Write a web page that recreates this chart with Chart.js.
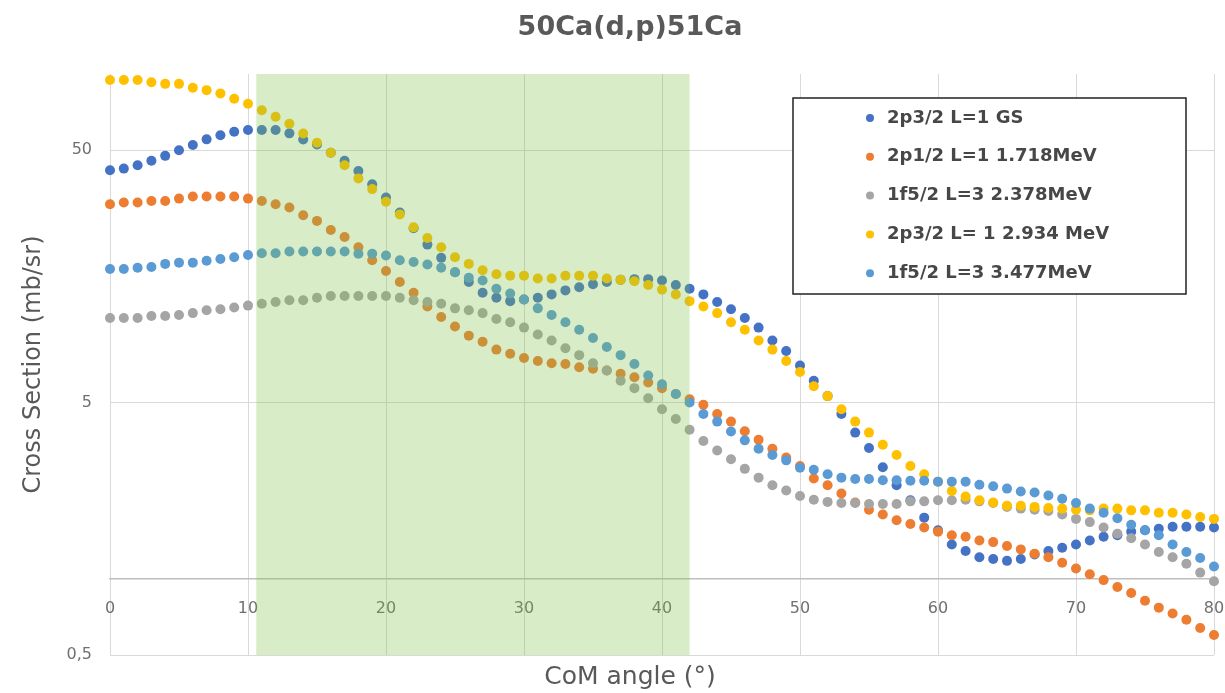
<!DOCTYPE html>
<html>
<head>
<meta charset="utf-8">
<title>50Ca(d,p)51Ca</title>
<script src="https://cdn.jsdelivr.net/npm/chart.js@4.4.1/dist/chart.umd.min.js"></script>
<style>
  html, body { margin: 0; padding: 0; background: #fff; }
  #wrap { width: 1225px; height: 693px; }
</style>
</head>
<body>
<div id="wrap"><canvas id="xsChart" width="1225" height="693"></canvas></div>
<script>
// CoM angles (deg), one point per degree
const angles = [
  0, 1, 2, 3, 4, 5, 6, 7, 8, 9,
  10, 11, 12, 13, 14, 15, 16, 17, 18, 19,
  20, 21, 22, 23, 24, 25, 26, 27, 28, 29,
  30, 31, 32, 33, 34, 35, 36, 37, 38, 39,
  40, 41, 42, 43, 44, 45, 46, 47, 48, 49,
  50, 51, 52, 53, 54, 55, 56, 57, 58, 59,
  60, 61, 62, 63, 64, 65, 66, 67, 68, 69,
  70, 71, 72, 73, 74, 75, 76, 77, 78, 79, 80
];

const seriesLabels = [
  '2p3/2 L=1 GS',
  '2p1/2 L=1 1.718MeV',
  '1f5/2 L=3 2.378MeV',
  '2p3/2 L= 1 2.934 MeV',
  '1f5/2 L=3 3.477MeV'
];
const seriesColors = ['#4472C4', '#ED7D31', '#A5A5A5', '#FFC000', '#5B9BD5'];

// cross sections (mb/sr)
const gs2p32 = [
  41.6, 42.2, 43.5, 45.3, 47.4, 49.9, 52.3, 55.1, 57.2, 59.1,
  60.0, 60.0, 60.0, 58.2, 55.0, 52.6, 48.8, 45.3, 41.3, 36.6,
  32.4, 28.3, 24.5, 21.1, 18.7, 16.4, 15.0, 13.6, 13.0, 12.6,
  12.8, 13.0, 13.4, 13.9, 14.3, 14.7, 15.0, 15.3, 15.4, 15.4,
  15.2, 14.6, 14.1, 13.4, 12.5, 11.7, 10.8, 9.9, 8.8, 8.0,
  7.0, 6.1, 5.3, 4.5, 3.8, 3.3, 2.77, 2.35, 2.05, 1.75,
  1.56, 1.37, 1.29, 1.22, 1.20, 1.18, 1.20, 1.25, 1.29, 1.33,
  1.37, 1.42, 1.47, 1.49, 1.54, 1.56, 1.58, 1.61, 1.61, 1.61, 1.60
];
const ex2p12 = [
  30.5, 31.0, 31.0, 31.4, 31.4, 32.1, 32.7, 32.7, 32.7, 32.7,
  32.1, 31.4, 30.5, 29.6, 27.6, 26.2, 24.1, 22.6, 20.6, 18.3,
  16.6, 15.0, 13.6, 12.0, 10.9, 10.0, 9.2, 8.7, 8.1, 7.8,
  7.5, 7.3, 7.15, 7.1, 6.9, 6.8, 6.7, 6.5, 6.3, 6.0,
  5.7, 5.4, 5.15, 4.9, 4.5, 4.2, 3.85, 3.56, 3.28, 3.03,
  2.8, 2.5, 2.35, 2.18, 2.01, 1.88, 1.8, 1.71, 1.65, 1.6,
  1.54, 1.49, 1.47, 1.42, 1.4, 1.35, 1.31, 1.26, 1.22, 1.16,
  1.1, 1.045, 0.99, 0.93, 0.88, 0.82, 0.77, 0.73, 0.69, 0.64, 0.6
];
const ex1f52a = [
  10.8, 10.8, 10.8, 11.0, 11.0, 11.1, 11.3, 11.6, 11.7, 11.9,
  12.1, 12.3, 12.5, 12.7, 12.7, 13.0, 13.2, 13.2, 13.2, 13.2,
  13.2, 13.0, 12.7, 12.5, 12.3, 11.8, 11.6, 11.3, 10.7, 10.4,
  9.9, 9.3, 8.8, 8.2, 7.7, 7.15, 6.7, 6.1, 5.7, 5.2,
  4.7, 4.3, 3.9, 3.52, 3.23, 2.98, 2.73, 2.52, 2.35, 2.24,
  2.13, 2.06, 2.02, 2.0, 2.0, 1.98, 1.98, 1.98, 2.03, 2.03,
  2.05, 2.05, 2.06, 2.03, 2.0, 1.93, 1.9, 1.88, 1.86, 1.8,
  1.73, 1.68, 1.6, 1.51, 1.45, 1.37, 1.28, 1.22, 1.15, 1.06, 0.98
];
const ex2p32 = [
  94.6, 94.6, 94.6, 92.8, 91.4, 91.4, 88.2, 86.3, 83.8, 79.8,
  76.2, 71.9, 67.7, 63.5, 58.1, 53.4, 48.8, 43.5, 38.6, 35.0,
  31.2, 27.8, 24.7, 22.4, 20.6, 18.8, 17.7, 16.7, 16.1, 15.9,
  15.9, 15.5, 15.5, 15.9, 15.9, 15.9, 15.5, 15.3, 15.1, 14.6,
  14.0, 13.4, 12.6, 12.0, 11.3, 10.4, 9.7, 8.8, 8.1, 7.3,
  6.6, 5.8, 5.3, 4.7, 4.2, 3.8, 3.4, 3.1, 2.8, 2.6,
  2.43, 2.23, 2.12, 2.05, 2.01, 1.95, 1.95, 1.93, 1.91, 1.9,
  1.88, 1.87, 1.9, 1.9, 1.87, 1.87, 1.83, 1.83, 1.8, 1.76, 1.73
];
const ex1f52b = [
  16.9, 16.9, 17.1, 17.2, 17.7, 17.9, 17.9, 18.2, 18.5, 18.8,
  19.2, 19.5, 19.5, 19.8, 19.8, 19.8, 19.8, 19.8, 19.4, 19.4,
  19.1, 18.3, 18.0, 17.6, 17.1, 16.4, 15.6, 15.2, 14.1, 13.5,
  12.8, 11.8, 11.1, 10.4, 9.7, 9.0, 8.3, 7.7, 7.1, 6.4,
  5.9, 5.4, 5.0, 4.5, 4.2, 3.84, 3.54, 3.28, 3.1, 2.95,
  2.76, 2.71, 2.6, 2.52, 2.49, 2.49, 2.46, 2.46, 2.45, 2.45,
  2.43, 2.43, 2.43, 2.36, 2.33, 2.28, 2.22, 2.2, 2.14, 2.08,
  2.0, 1.9, 1.83, 1.74, 1.64, 1.56, 1.49, 1.37, 1.28, 1.21, 1.12
];

const yTicks = [0.5, 5, 50];
const shadeRange = [10.6, 42];   // green band, in degrees

const allSeries = [gs2p32, ex2p12, ex1f52a, ex2p32, ex1f52b];
const font = 'DejaVu Sans';

const datasets = allSeries.map((vals, i) => ({
  label: seriesLabels[i],
  data: vals.map((v, j) => ({ x: angles[j], y: v })),
  backgroundColor: seriesColors[i],
  borderWidth: 0,
  pointRadius: 5,
  pointHoverRadius: 5,
  showLine: false,
  clip: false,
  order: allSeries.length - 1 - i   // later series drawn on top, like excel
}));

// translucent green band over the points
const shadePlugin = {
  id: 'shade',
  afterDatasetsDraw(chart) {
    const { ctx, chartArea, scales } = chart;
    const x0 = scales.x.getPixelForValue(shadeRange[0]);
    const x1 = scales.x.getPixelForValue(shadeRange[1]);
    ctx.save();
    ctx.fillStyle = 'rgba(125, 192, 72, 0.3)';
    ctx.fillRect(x0, chartArea.top, x1 - x0, chartArea.bottom - chartArea.top);
    ctx.restore();
  }
};

// boxed legend inside the plot, top right
const boxLegend = {
  id: 'boxLegend',
  afterDraw(chart) {
    const { ctx, chartArea } = chart;
    const right = chartArea.right - 28;
    const left = right - 393;
    const top = chartArea.top + 24;
    const h = 196;
    ctx.save();
    ctx.fillStyle = '#fff';
    ctx.fillRect(left, top, right - left, h);
    ctx.strokeStyle = '#222';
    ctx.lineWidth = 1.5;
    ctx.strokeRect(left, top, right - left, h);
    ctx.font = 'bold 18px "' + font + '"';
    ctx.textBaseline = 'middle';
    ctx.textAlign = 'left';
    chart.data.datasets.forEach((ds, i) => {
      const y = top + 20 + i * 38.8;
      ctx.fillStyle = ds.backgroundColor;
      ctx.beginPath();
      ctx.arc(left + 77, y, 4, 0, Math.PI * 2);
      ctx.fill();
      ctx.fillStyle = '#474747';
      ctx.fillText(ds.label, left + 94, y);
    });
    ctx.restore();
  }
};

const ctx = document.getElementById('xsChart').getContext('2d');
const xsChart = new Chart(ctx, {
  type: 'scatter',
  data: { datasets: datasets },
  plugins: [shadePlugin, boxLegend],
  options: {
    responsive: false,
    animation: false,
    devicePixelRatio: 1,
    layout: { padding: { left: 46, right: 11, top: 0, bottom: 0 } },
    plugins: {
      legend: { display: false },
      tooltip: { enabled: false },
      title: {
        display: true,
        text: '50Ca(d,p)51Ca',
        color: '#595959',
        font: { family: font, size: 27, weight: 'bold' },
        padding: { top: 12, bottom: 29.6 }
      },
      subtitle: {
        display: true,
        position: 'bottom',
        text: 'CoM angle (°)',
        color: '#595959',
        font: { family: font, size: 25, weight: 'normal' },
        padding: { top: 7, bottom: 1 }
      }
    },
    scales: {
      x: {
        type: 'linear',
        min: 0,
        max: 80,
        position: { y: 1 },
        afterFit(scale) {
          // labels at the ends may hang over, don't shrink the plot for them
          scale.paddingLeft = 0;
          scale.paddingRight = 0;
        },
        ticks: {
          stepSize: 10,
          padding: 20,
          color: '#707070',
          font: { family: font, size: 16 }
        },
        grid: { color: '#d9d9d9', drawTicks: false },
        border: { color: '#bfbfbf', width: 1.5 }
      },
      y: {
        type: 'logarithmic',
        min: 0.5,
        max: 100,
        afterBuildTicks(scale) {
          scale.ticks = yTicks.map(v => ({ value: v }));
        },
        afterFit(scale) {
          scale.width = 64;
        },
        ticks: {
          padding: 18,
          color: '#707070',
          font: { family: font, size: 16 },
          callback: v => String(v).replace('.', ',')
        },
        grid: { color: '#d9d9d9', drawTicks: false },
        border: { display: false },
        title: {
          display: true,
          text: 'Cross Section (mb/sr)',
          color: '#595959',
          font: { family: font, size: 24 },
          padding: { top: -27, bottom: 0 }
        }
      }
    }
  }
});
</script>
</body>
</html>
